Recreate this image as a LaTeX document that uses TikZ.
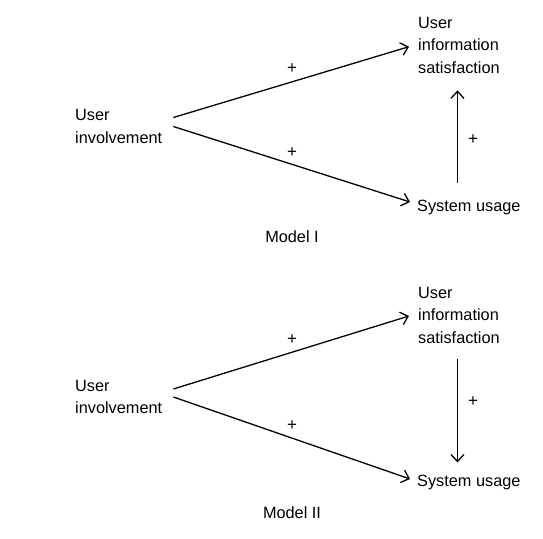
\documentclass[tikz,border=0pt]{standalone}
\usepackage{fontspec}
\setmainfont{Liberation Sans}
\usetikzlibrary{arrows.meta}
\begin{document}
\begin{tikzpicture}[x=1pt,y=1pt,
  lbl/.style={inner sep=0pt, font=\fontsize{16.3}{22.5}\selectfont, align=left},
  plus/.style={inner sep=0pt, font=\fontsize{17}{18}\selectfont},
  arr/.style={line width=1.3pt, -{Straight Barb[length=7pt,width=13pt]}}]
\useasboundingbox[fill=white] (0,0) rectangle (543,538);
% Model I
\node[lbl, anchor=west] (ui1) at (75,411.5) {User\\involvement};
\node[lbl, anchor=west] (sat1) at (418,493) {User\\information\\satisfaction};
\node[lbl, anchor=west] (sys1) at (417,330) {System usage};
\node[plus] (p1a) at (292,469) {+};
\node[plus] (p1b) at (292,385) {+};
\node[plus] (p1c) at (473,398) {+};
\node[lbl] (m1) at (292,301) {Model I};
\draw[arr] ([shift={(11pt,9pt)}]ui1.east) -- ([shift={(-9pt,-1.7pt)}]sat1.west);
\draw[arr] ([shift={(11pt,0pt)}]ui1.east) -- ([shift={(-7pt,6pt)}]sys1.west);
\draw[arr, shorten <=17pt, shorten >=17pt] ([xshift=-1.5pt]sys1.north -| sat1.south) -- ([xshift=-1.5pt]sat1.south);
% Model II
\node[lbl, anchor=west] (ui2) at (75,141) {User\\involvement};
\node[lbl, anchor=west] (sat2) at (418,223) {User\\information\\satisfaction};
\node[lbl, anchor=west] (sys2) at (417,55) {System usage};
\node[plus] (p2a) at (292,198) {+};
\node[plus] (p2b) at (292,112) {+};
\node[plus] (p2c) at (473,136) {+};
\node[lbl] (m2) at (292,25) {Model II};
\draw[arr] ([shift={(11pt,8pt)}]ui2.east) -- ([shift={(-9pt,-1pt)}]sat2.west);
\draw[arr] ([shift={(11pt,0pt)}]ui2.east) -- ([shift={(-7pt,4pt)}]sys2.west);
\draw[arr, shorten <=16pt, shorten >=13pt] ([xshift=-1.5pt]sat2.south) -- ([xshift=-1.5pt]sys2.north -| sat2.south);
\end{tikzpicture}
\end{document}
